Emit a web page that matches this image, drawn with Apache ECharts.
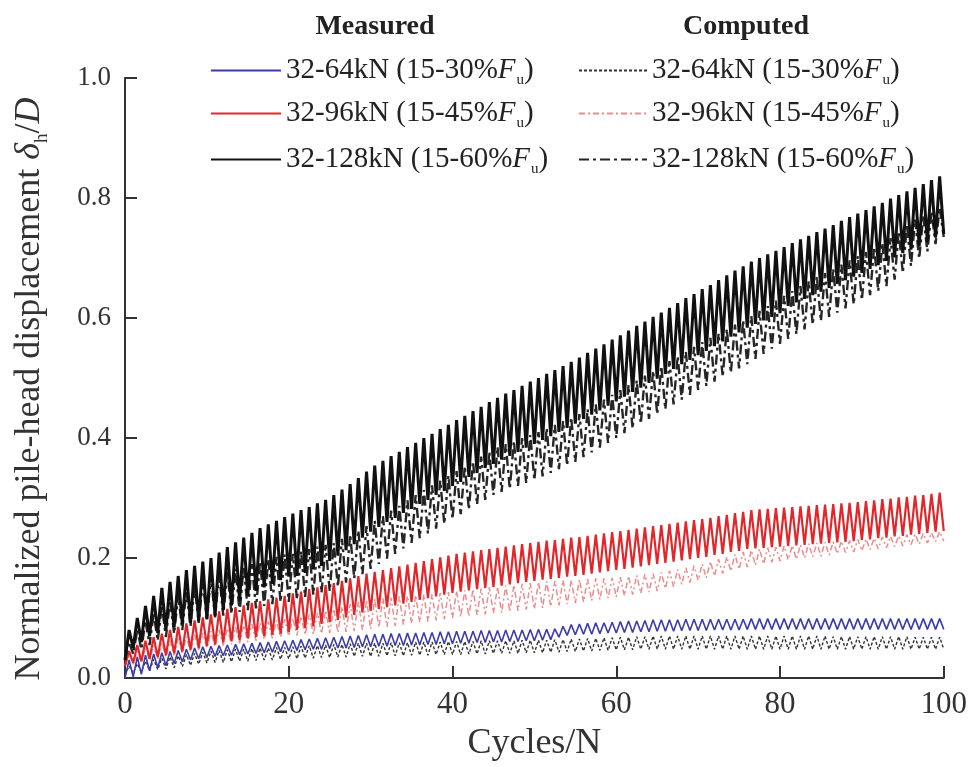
<!DOCTYPE html>
<html>
<head>
<meta charset="utf-8">
<script src="https://cdn.jsdelivr.net/npm/echarts@6/dist/echarts.min.js"></script>
<style>html,body{margin:0;padding:0;background:#fff}#c{width:970px;height:767px}</style>
</head>
<body>
<div id="c"></div>
<script>
// Cycle index 0..100 ; per-cycle trough (lo) and peak (hi) values
const xTicks = [0, 20, 40, 60, 80, 100];
const yTicks = [0.0, 0.2, 0.4, 0.6, 0.8, 1.0];
const legendLabels = ['32-64kN (15-30%', '32-96kN (15-45%', '32-128kN (15-60%'];

// Measured 32-128kN
const m128Hi = [.080,.100,.120,.137,.150,.160,.170,.180,.187,.194,.200,.209,.218,.226,.234,.242,.250,.256,.262,.268,.274,.280,.285,.291,.297,.305,.314,.323,.333,.344,.354,.362,.370,.377,.385,.392,.400,.407,.415,.422,.430,.437,.445,.452,.460,.467,.474,.480,.487,.494,.500,.507,.513,.520,.527,.534,.542,.549,.556,.564,.571,.579,.587,.594,.602,.609,.617,.625,.633,.640,.648,.655,.663,.671,.679,.686,.694,.700,.706,.712,.718,.725,.731,.737,.743,.749,.755,.762,.768,.774,.780,.786,.792,.799,.805,.811,.817,.823,.830,.836,.840];
const m128Lo = [.030,.050,.060,.070,.075,.080,.085,.090,.092,.095,.098,.104,.113,.121,.129,.137,.145,.151,.157,.163,.169,.170,.175,.181,.187,.195,.204,.213,.223,.234,.244,.252,.260,.267,.275,.282,.290,.297,.305,.312,.320,.327,.335,.342,.350,.357,.364,.370,.377,.384,.390,.397,.403,.410,.417,.424,.432,.439,.446,.454,.461,.469,.477,.484,.492,.499,.507,.515,.523,.530,.538,.545,.553,.561,.569,.576,.584,.590,.596,.602,.608,.620,.626,.632,.638,.644,.650,.657,.663,.669,.675,.682,.688,.695,.701,.708,.714,.720,.727,.734,.740];
// Computed 32-128kN
const c128Hi = [.060,.080,.095,.108,.120,.130,.138,.146,.154,.162,.170,.174,.178,.182,.186,.190,.194,.198,.202,.206,.207,.211,.215,.219,.222,.225,.232,.239,.246,.253,.262,.270,.279,.287,.296,.305,.313,.321,.329,.337,.345,.353,.361,.369,.377,.385,.390,.395,.400,.405,.410,.416,.422,.428,.434,.440,.448,.456,.464,.472,.480,.488,.496,.504,.512,.520,.528,.536,.544,.552,.560,.567,.574,.582,.589,.596,.603,.612,.620,.629,.637,.645,.653,.661,.669,.675,.682,.689,.696,.703,.710,.718,.725,.733,.744,.755,.764,.771,.778,.784,.790];
const c128Lo = [.030,.040,.048,.055,.062,.068,.074,.080,.086,.092,.098,.101,.104,.107,.110,.113,.116,.120,.123,.127,.127,.131,.135,.139,.142,.145,.152,.159,.166,.173,.182,.190,.199,.207,.216,.225,.233,.241,.249,.257,.265,.273,.281,.289,.297,.305,.310,.315,.320,.325,.330,.336,.342,.348,.354,.360,.368,.376,.384,.392,.400,.408,.416,.424,.432,.440,.448,.456,.464,.472,.480,.487,.494,.502,.509,.516,.523,.532,.540,.549,.557,.565,.573,.581,.589,.595,.602,.609,.616,.623,.630,.638,.645,.653,.664,.675,.687,.699,.711,.723,.735];
// Measured 32-96kN
const m96Hi = [.045,.055,.062,.068,.074,.080,.085,.091,.096,.101,.106,.111,.115,.118,.121,.125,.128,.131,.134,.137,.141,.144,.148,.151,.155,.158,.162,.166,.170,.174,.177,.180,.183,.186,.189,.192,.195,.198,.201,.204,.207,.209,.211,.213,.215,.217,.219,.221,.223,.225,.227,.229,.230,.232,.234,.235,.237,.239,.241,.243,.245,.247,.249,.251,.253,.255,.257,.259,.261,.263,.265,.267,.270,.272,.275,.277,.280,.281,.282,.283,.284,.285,.286,.287,.288,.289,.290,.291,.292,.293,.295,.296,.298,.299,.301,.302,.304,.305,.307,.309,.310];
const m96Lo = [.020,.025,.028,.032,.035,.038,.041,.044,.047,.050,.053,.056,.059,.061,.063,.066,.068,.070,.072,.074,.077,.080,.083,.086,.090,.093,.097,.101,.105,.109,.112,.115,.118,.121,.124,.127,.130,.133,.136,.139,.142,.144,.146,.148,.150,.152,.154,.156,.158,.160,.162,.164,.165,.167,.169,.170,.172,.174,.176,.178,.180,.182,.184,.186,.188,.190,.192,.194,.196,.198,.200,.202,.205,.207,.210,.212,.215,.216,.217,.218,.219,.220,.221,.222,.223,.224,.225,.226,.227,.228,.230,.231,.233,.234,.236,.237,.239,.240,.242,.244,.245];
// Computed 32-96kN
const c96Hi = [.040,.045,.050,.054,.058,.062,.066,.069,.072,.075,.078,.080,.083,.085,.088,.090,.092,.094,.096,.098,.100,.103,.106,.109,.112,.115,.119,.123,.127,.130,.132,.133,.134,.136,.137,.138,.139,.140,.142,.143,.145,.146,.148,.149,.151,.152,.154,.155,.157,.158,.160,.161,.162,.163,.163,.164,.165,.166,.166,.167,.168,.170,.171,.173,.174,.176,.179,.181,.184,.187,.190,.194,.198,.202,.206,.210,.213,.215,.217,.218,.220,.221,.222,.224,.225,.226,.227,.228,.229,.231,.232,.233,.235,.236,.237,.239,.240,.241,.242,.244,.245];
const c96Lo = [.020,.023,.026,.029,.032,.035,.038,.041,.044,.047,.050,.052,.054,.056,.058,.060,.062,.064,.066,.068,.070,.071,.072,.073,.074,.075,.076,.077,.078,.080,.082,.084,.085,.087,.089,.091,.093,.094,.096,.098,.100,.102,.103,.105,.106,.108,.109,.111,.112,.114,.115,.117,.119,.121,.123,.125,.127,.129,.131,.133,.135,.137,.139,.141,.143,.145,.149,.152,.156,.159,.163,.167,.170,.174,.178,.181,.185,.188,.190,.193,.195,.197,.198,.200,.202,.203,.205,.207,.209,.210,.212,.214,.215,.217,.219,.220,.222,.223,.225,.227,.228];
// Measured 32-64kN
const m64Hi = [.030,.035,.038,.040,.042,.044,.046,.048,.050,.052,.053,.054,.055,.056,.057,.058,.059,.060,.061,.062,.063,.064,.065,.066,.067,.068,.069,.070,.071,.072,.073,.073,.074,.074,.075,.075,.076,.076,.077,.077,.078,.078,.078,.079,.079,.079,.080,.080,.080,.081,.081,.081,.082,.086,.089,.090,.091,.092,.092,.093,.094,.095,.095,.096,.097,.097,.097,.097,.098,.098,.098,.098,.098,.098,.098,.098,.099,.099,.099,.099,.099,.099,.099,.099,.099,.099,.099,.099,.099,.099,.099,.099,.099,.099,.099,.099,.099,.099,.099,.099,.099];
const m64Lo = [.000,.002,.006,.012,.017,.021,.024,.027,.030,.032,.034,.036,.037,.038,.039,.040,.041,.042,.043,.044,.045,.046,.047,.048,.048,.049,.050,.050,.051,.052,.052,.053,.053,.054,.054,.055,.055,.056,.056,.057,.057,.058,.058,.059,.059,.060,.060,.061,.061,.062,.062,.063,.064,.068,.071,.072,.073,.073,.074,.075,.075,.076,.076,.077,.077,.078,.078,.078,.079,.079,.079,.079,.080,.080,.080,.080,.081,.081,.081,.081,.081,.081,.081,.081,.081,.081,.081,.081,.081,.081,.081,.081,.081,.081,.081,.081,.081,.081,.081,.081,.081];
// Computed 32-64kN
const c64Hi = [.020,.024,.028,.031,.033,.035,.037,.039,.041,.043,.045,.046,.047,.048,.048,.049,.050,.050,.051,.051,.052,.053,.054,.054,.055,.056,.056,.057,.058,.058,.058,.058,.059,.059,.059,.060,.060,.060,.060,.061,.061,.061,.061,.062,.062,.062,.062,.062,.063,.063,.063,.063,.064,.064,.065,.065,.066,.066,.067,.067,.068,.068,.069,.069,.070,.070,.070,.070,.070,.070,.070,.070,.070,.070,.070,.070,.070,.070,.070,.070,.070,.070,.070,.070,.070,.070,.069,.069,.069,.069,.069,.069,.069,.069,.069,.069,.068,.068,.068,.068,.068];
const c64Lo = [.005,.008,.010,.012,.014,.015,.017,.019,.021,.023,.025,.026,.026,.027,.028,.028,.029,.030,.030,.031,.032,.032,.033,.033,.034,.034,.035,.035,.036,.036,.036,.036,.037,.037,.037,.038,.038,.038,.039,.039,.039,.039,.040,.040,.040,.041,.041,.041,.041,.042,.042,.042,.043,.043,.044,.044,.045,.045,.046,.046,.047,.047,.047,.048,.048,.048,.048,.048,.048,.048,.048,.048,.048,.048,.048,.048,.048,.048,.048,.048,.048,.048,.048,.048,.048,.048,.048,.048,.048,.048,.048,.048,.048,.048,.048,.048,.048,.048,.048,.048,.048];

function zig(lo, hi) {
  const d = [];
  for (let i = 0; i < lo.length - 1; i++) {
    d.push([i, lo[i]]);
    d.push([i + 0.5, hi[i]]);
  }
  d.push([lo.length - 1, lo[lo.length - 1]]);
  return d;
}

const FONT = 'Liberation Serif';
const styles = {
  m64:  {color: '#3c3caa', width: 1.6, type: 'solid'},
  m96:  {color: '#e3262a', width: 2.2, type: 'solid'},
  m128: {color: '#111111', width: 3.0, type: 'solid'},
  c64:  {color: '#333333', width: 1.4, type: [3, 2]},
  c96:  {color: '#ec8c8c', width: 1.5, type: [6, 3, 2, 3]},
  c128: {color: '#262626', width: 2.4, type: [10, 4, 3, 4]}
};
const dataMap = {
  m64: zig(m64Lo, m64Hi), m96: zig(m96Lo, m96Hi), m128: zig(m128Lo, m128Hi),
  c64: zig(c64Lo, c64Hi), c96: zig(c96Lo, c96Hi), c128: zig(c128Lo, c128Hi)
};
const labelOf = {
  m64: legendLabels[0], m96: legendLabels[1], m128: legendLabels[2],
  c64: legendLabels[0], c96: legendLabels[1], c128: legendLabels[2]
};

const order = ['c64', 'c96', 'm64', 'm96', 'c128', 'm128'];
const series = order.map(n => ({
  name: n, type: 'line', data: dataMap[n], showSymbol: false, symbol: 'none',
  lineStyle: styles[n], itemStyle: {color: styles[n].color}, animation: false,
  z: 2, silent: true
}));

const rich = {
  t: {fontFamily: FONT, fontSize: 29, color: '#222'},
  i: {fontFamily: FONT, fontSize: 29, fontStyle: 'italic', color: '#222'},
  s: {fontFamily: FONT, fontSize: 15, color: '#222', padding: [20, 0, 0, 1]}
};
const rowY = [67, 110, 156];
const legends = [];
const mkLegend = (n, k, left, w) => ({
  data: [n], left: left, top: rowY[k] - 16, itemWidth: w, itemHeight: 16, itemGap: 0,
  itemStyle: {opacity: 0, borderWidth: 0},
  formatter: nm => '{t|' + labelOf[nm] + '}{i|F}{s|u}{t|)}',
  textStyle: {rich: rich, fontFamily: FONT, fontSize: 29}, selectedMode: false
});
['m64', 'm96', 'm128'].forEach((n, k) => legends.push(mkLegend(n, k, 205, 70)));
['c64', 'c96', 'c128'].forEach((n, k) => legends.push(mkLegend(n, k, 573, 68)));

const chart = echarts.init(document.getElementById('c'), null, {renderer: 'canvas'});
chart.setOption({
  backgroundColor: '#fff',
  animation: false,
  title: [
    {text: 'Measured', left: 370, top: 8, textAlign: 'center',
     textStyle: {fontFamily: FONT, fontWeight: 'bold', fontSize: 28, color: '#222'}},
    {text: 'Computed', left: 741, top: 8, textAlign: 'center',
     textStyle: {fontFamily: FONT, fontWeight: 'bold', fontSize: 28, color: '#222'}}
  ],
  legend: legends,
  graphic: [{
    type: 'text', x: 30, y: 389, rotation: Math.PI / 2, silent: true,
    style: {
      text: 'Normalized pile-head displacement {i|δ}{s|h}{t|/}{i|D}',
      fontFamily: FONT, fontSize: 36, fill: '#333', align: 'center', verticalAlign: 'middle',
      rich: {
        t: {fontFamily: FONT, fontSize: 36, fill: '#333'},
        i: {fontFamily: FONT, fontSize: 36, fontStyle: 'italic', fill: '#333'},
        s: {fontFamily: FONT, fontSize: 19, fill: '#333', padding: [24, 0, 0, 0]}
      }
    }
  }],
  grid: {left: 125, right: 25, top: 78, bottom: 85, containLabel: false},
  xAxis: {
    type: 'value', min: xTicks[0], max: xTicks[xTicks.length - 1], interval: 20,
    name: 'Cycles/N', nameLocation: 'middle', nameGap: 48,
    nameTextStyle: {fontFamily: FONT, fontSize: 36, color: '#333'},
    axisLine: {show: true, onZero: false, lineStyle: {color: '#333', width: 2}},
    axisTick: {show: true, inside: true, length: 12, lineStyle: {color: '#333', width: 2}},
    axisLabel: {fontFamily: FONT, fontSize: 31, color: '#333', margin: 11,
      formatter: v => xTicks.includes(v) ? String(v) : ''},
    splitLine: {show: false}
  },
  yAxis: {
    type: 'value', min: yTicks[0], max: yTicks[yTicks.length - 1], interval: 0.2,
    axisLine: {show: true, lineStyle: {color: '#333', width: 2}},
    axisTick: {show: true, inside: true, length: 12, lineStyle: {color: '#333', width: 2}},
    axisLabel: {fontFamily: FONT, fontSize: 27, color: '#333', margin: 14,
      formatter: v => v.toFixed(1)},
    splitLine: {show: false}
  },
  series: series
});
</script>
</body>
</html>
